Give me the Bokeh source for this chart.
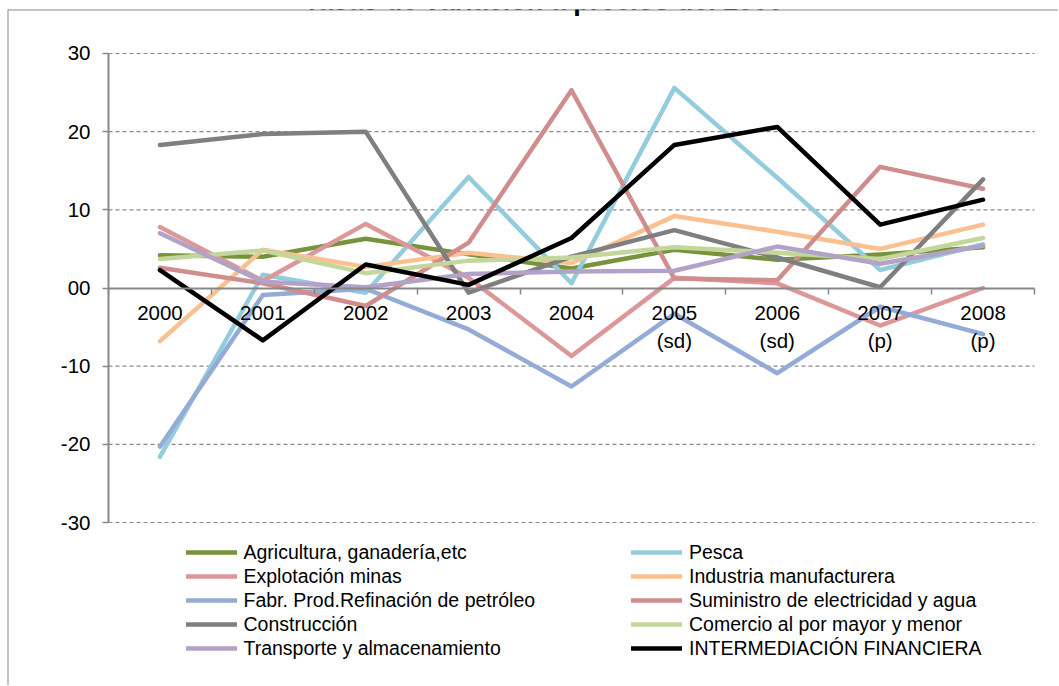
from bokeh.plotting import figure
from bokeh.models import (LinearAxis, FixedTicker, Range1d, Legend, LegendItem,
                          Label, Span)
from bokeh.embed import file_html
from bokeh.resources import INLINE

# ---------------- data ----------------
years = ["2000", "2001", "2002", "2003", "2004", "2005", "2006", "2007", "2008"]
year_notes = ["", "", "", "", "", "(sd)", "(sd)", "(p)", "(p)"]

agricultura = [4.2, 4.0, 6.3, 4.3, 2.5, 4.9, 3.6, 4.3, 5.2]
pesca = [-21.6, 1.7, -0.6, 14.2, 0.6, 25.6, 14.1, 2.3, 5.6]
explotacion = [7.8, 0.9, 8.2, 1.3, -8.7, 1.3, 0.6, -4.8, 0.0]
industria = [-6.8, 4.9, 2.7, 4.5, 3.2, 9.2, 7.2, 5.0, 8.1]
refinacion = [-20.3, -0.9, -0.1, -5.3, -12.6, -3.3, -10.9, -2.4, -5.9]
electricidad = [2.6, 0.6, -2.3, 5.8, 25.3, 1.2, 1.0, 15.5, 12.7]
construccion = [18.3, 19.7, 20.0, -0.6, 4.0, 7.4, 3.9, 0.1, 13.9]
comercio = [3.7, 4.8, 1.9, 3.5, 3.9, 5.2, 4.5, 3.7, 6.4]
transporte = [7.0, 0.8, 0.1, 1.8, 2.1, 2.2, 5.3, 3.1, 5.4]
intermediacion = [2.3, -6.7, 3.0, 0.4, 6.4, 18.3, 20.6, 8.1, 11.3]

series_names = ["Agricultura, ganadería,etc", "Pesca", "Explotación minas",
                "Industria manufacturera", "Fabr. Prod.Refinación de petróleo",
                "Suministro de electricidad y agua", "Construcción",
                "Comercio al por mayor y menor", "Transporte y almacenamiento",
                "INTERMEDIACIÓN FINANCIERA"]
series_values = [agricultura, pesca, explotacion, industria, refinacion,
                 electricidad, construccion, comercio, transporte, intermediacion]
series_colors = ["#77933C", "#93CDDD", "#DC9898", "#FAC090", "#93ABD6",
                 "#CF8D8D", "#7F7F7F", "#C3D69B", "#B3A2C7", "#000000"]

y_ticks = [-30, -20, -10, 0, 10, 20, 30]
y_tick_labels = ["-30", "-20", "-10", "00", "10", "20", "30"]
title_text = "Tasas de variación a precios del 2000"

# ---------------- layout ----------------
FONT = "Liberation Sans"
GRAY = "#888888"
n = len(years)
px_x = 102.9           # pixels per category
px_y = 7.817           # pixels per unit
x_start, x_end = -101 / px_x, n + 24 / px_x
y_end, y_start = 278.5 / px_y, -397.5 / px_y

p = figure(width=1058, height=701, output_backend="svg", toolbar_location=None,
           x_range=Range1d(x_start, x_end), y_range=Range1d(y_start, y_end),
           x_axis_location=None, y_axis_location=None,
           min_border_left=7, min_border_right=0, min_border_top=25,
           min_border_bottom=0)
p.title.visible = False
p.grid.visible = False
p.outline_line_color = None
p.background_fill_color = "white"
p.border_fill_color = "white"
p.styles = {"margin-top": "-16px"}

# dashed horizontal gridlines across the category area
grid_y = [t for t in y_ticks if t != 0]
p.segment(x0=[0] * len(grid_y), x1=[n] * len(grid_y), y0=grid_y, y1=grid_y,
          line_color=GRAY, line_width=1.2, line_dash="4 3")

# y axis
yaxis = LinearAxis(fixed_location=0, bounds=(y_ticks[0], y_ticks[-1]),
                   ticker=FixedTicker(ticks=y_ticks, minor_ticks=[]),
                   major_label_overrides=dict(zip(y_ticks, y_tick_labels)))
yaxis.axis_line_color = GRAY
yaxis.axis_line_width = 2
yaxis.major_tick_line_color = GRAY
yaxis.major_tick_line_width = 1.5
yaxis.major_tick_out = 6
yaxis.major_tick_in = 0
yaxis.minor_tick_line_color = None
yaxis.major_label_standoff = 12
yaxis.major_label_text_font = FONT
yaxis.major_label_text_font_size = "20.5px"
yaxis.major_label_text_color = "black"
p.add_layout(yaxis, "left")

# x axis on the zero line
centers = [i + 0.5 for i in range(n)]
labels = {c: (y + ("\n" + note if note else "")) for c, y, note in zip(centers, years, year_notes)}
xaxis = LinearAxis(fixed_location=0, bounds=(0, n),
                   ticker=FixedTicker(ticks=centers, minor_ticks=list(range(n + 1))),
                   major_label_overrides=labels)
xaxis.axis_line_color = GRAY
xaxis.axis_line_width = 1.8
xaxis.major_tick_line_color = None
xaxis.major_tick_out = 0
xaxis.major_tick_in = 0
xaxis.minor_tick_line_color = GRAY
xaxis.minor_tick_line_width = 1.5
xaxis.minor_tick_out = 6
xaxis.minor_tick_in = 0
xaxis.major_label_standoff = 7
xaxis.major_label_text_font = FONT
xaxis.major_label_text_font_size = "20.5px"
xaxis.major_label_text_color = "black"
xaxis.major_label_orientation = "horizontal"
p.add_layout(xaxis, "below")

# series
items = []
for name, vals, col in zip(series_names, series_values, series_colors):
    r = p.line(x=centers, y=vals, line_color=col, line_width=4.5,
               line_cap="round", line_join="round")
    items.append(LegendItem(label=name, renderers=[r]))

# legend in two columns (row-major order)
def make_legend(its, loc):
    lg = Legend(items=its, location=loc, orientation="vertical")
    lg.glyph_width = 51
    lg.glyph_height = 24
    lg.label_height = 24
    lg.label_standoff = 7
    lg.spacing = 0
    lg.padding = 0
    lg.margin = 0
    lg.border_line_color = None
    lg.background_fill_alpha = 0
    lg.label_text_font = FONT
    lg.label_text_font_size = "19.5px"
    lg.label_text_color = "black"
    return lg

p.add_layout(make_legend(items[0::2], (178.5, 25)), "center")
p.add_layout(make_legend(items[1::2], (624, 25)), "center")

# chart border (left and top)
p.add_layout(Span(location=x_start, dimension="height", line_color=GRAY, line_width=2))
p.add_layout(Span(location=y_end, dimension="width", line_color=GRAY, line_width=2))

# title (mostly above the visible area, as in the reference)
p.add_layout(Label(x=536, y=685, x_units="screen", y_units="screen", text=title_text,
                   text_font=FONT, text_font_style="bold", text_font_size="27px",
                   text_align="center", text_baseline="alphabetic", text_color="black"))

open("out.html", "w").write(file_html(p, INLINE))
